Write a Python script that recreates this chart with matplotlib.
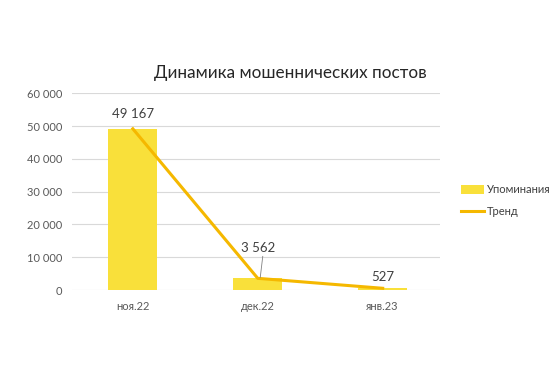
import matplotlib.pyplot as plt
from matplotlib.ticker import FuncFormatter

plt.rcParams['font.family'] = ['Lato', 'DejaVu Sans']

months = ["ноя.22", "дек.22", "янв.23"]
mentions = [49167, 3562, 527]
trend = [49167, 3562, 527]
label_texts = ["49 167", "3 562", "527"]
y_ticks = [0, 10000, 20000, 30000, 40000, 50000, 60000]


def spaced(v, pos=None):
    return f"{int(v):,}".replace(",", " ")


fig = plt.figure(figsize=(5.6, 3.73), dpi=100)
ax = fig.add_axes([0.129, 0.2225, 0.657, 0.5275])

x = list(range(len(months)))
bars = ax.bar(x, mentions, width=0.39, color="#F9E03A", label="Упоминания", zorder=2)
line, = ax.plot(x, trend, color="#F5B800", linewidth=2.2, label="Тренд", zorder=3)

# data labels
label_y = [51900, 10900, 2100]
for i, t in enumerate(label_texts):
    ax.text(i, label_y[i], t, ha="center", va="bottom", fontsize=9.5, color="#404040")
# leader line for the december label
ax.plot([1.04, 1.02], [mentions[1] + 6700, mentions[1] + 300], color="#808080", linewidth=0.6, zorder=4)

ax.set_xlim(-0.485, 2.46)
ax.set_ylim(0, 60000)
ax.set_yticks(y_ticks)
ax.yaxis.set_major_formatter(FuncFormatter(spaced))
ax.set_xticks(x)
ax.set_xticklabels(months)
ax.grid(axis="y", color="#D9D9D9", linewidth=0.8, zorder=0)
ax.set_axisbelow(True)
for s in ax.spines.values():
    s.set_visible(False)
ax.tick_params(length=0, labelsize=8, colors="#595959")
ax.tick_params(axis="y", pad=7)
ax.tick_params(axis="x", pad=8)

fig.text(0.518, 0.805, "Динамика мошеннических постов", ha="center", va="center",
         fontsize=12.3, color="#262626")

fig.legend(handles=[bars, line], loc="center left", bbox_to_anchor=(0.806, 0.462), frameon=False,
           fontsize=8, handlelength=2.0, handleheight=0.9, handletextpad=0.3,
           labelspacing=1.0, labelcolor="#404040")

plt.savefig("out.png", dpi=100)
plt.close()
